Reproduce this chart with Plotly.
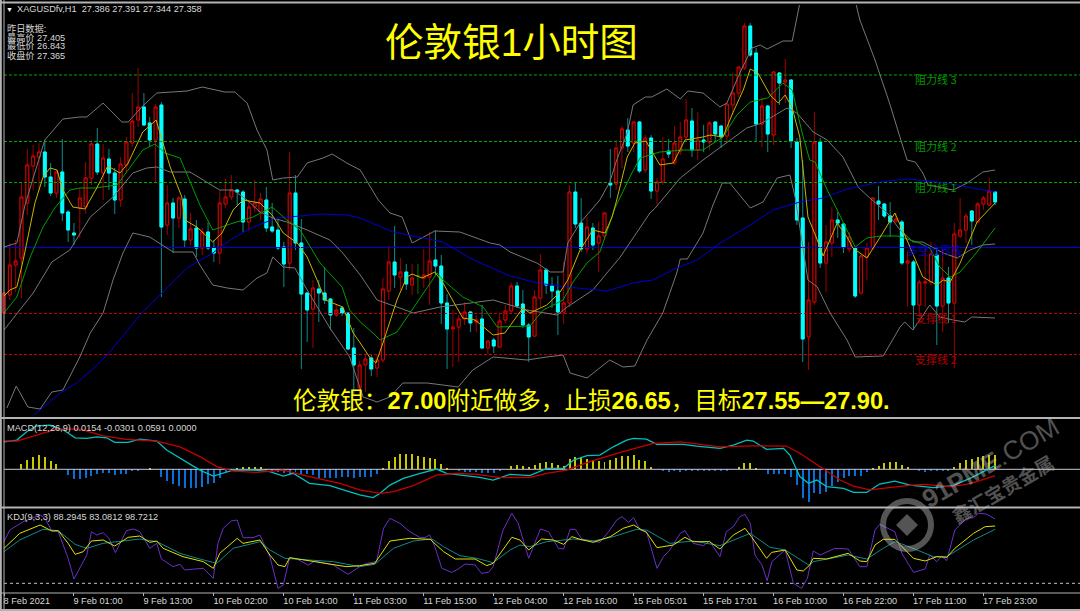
import plotly.graph_objects as go

W, H = 1080, 611

tick_labels = ["8 Feb 2021", "9 Feb 01:00", "9 Feb 13:00", "10 Feb 02:00", "10 Feb 14:00", "11 Feb 03:00",
               "11 Feb 15:00", "12 Feb 04:00", "12 Feb 16:00", "15 Feb 05:01", "15 Feb 17:01", "16 Feb 10:00",
               "16 Feb 22:00", "17 Feb 11:00", "17 Feb 23:00"]
tick_bars = [0, 12, 24, 36, 48, 60, 72, 84, 96, 108, 120, 132, 144, 156, 168]

opens = [26.935,27.025,27.175,27.21,27.485,27.67,27.715,27.74,27.615,27.535,
27.64,27.44,27.335,27.46,27.465,27.61,27.78,27.635,27.705,27.635,
27.5,27.675,27.785,27.9,27.965,27.885,27.8,27.975,27.375,27.485,
27.41,27.505,27.3,27.36,27.26,27.34,27.26,27.235,27.48,27.515,
27.55,27.54,27.39,27.465,27.44,27.5,27.365,27.35,27.265,27.185,
27.535,27.285,27.035,26.955,27.055,27.035,27.005,26.925,26.96,26.935,
26.76,26.56,26.675,26.71,26.66,26.7,27.045,27.19,27.115,27.14,
27.075,27.12,27.11,27.115,27.2,27.17,26.985,26.855,26.865,26.905,
26.94,26.89,26.905,26.76,26.8,26.765,26.9,26.945,27.07,26.98,
26.875,26.82,27.01,27.15,27.07,27.045,26.94,26.985,27.54,27.385,
27.255,27.36,27.285,27.32,27.585,27.58,27.76,27.85,27.785,27.89,
27.65,27.81,27.545,27.59,27.745,27.685,27.745,27.815,27.895,27.75,
27.8,27.79,27.89,27.87,27.82,27.975,28.035,28.16,28.37,28.235,
27.88,27.97,27.825,28.135,28.09,28.1,27.79,27.41,26.815,26.99,
27.79,27.185,27.285,27.4,27.38,27.255,27.26,27.035,27.215,27.26,
27.495,27.48,27.42,27.395,27.39,27.185,27.19,26.975,27.085,27.09,
27.225,26.97,27.11,26.985,27.32,27.35,27.445,27.39,27.48,27.475,27.54]
highs = [27.04,27.285,27.3,27.59,27.755,27.775,27.785,27.8,27.685,27.65,
27.805,27.45,27.385,27.56,27.69,27.8,27.86,27.78,27.755,27.66,
27.715,27.815,28.035,28.16,28.035,27.915,27.98,27.99,27.575,27.51,
27.52,27.525,27.435,27.4,27.36,27.39,27.3,27.55,27.605,27.625,
27.555,27.55,27.5,27.6,27.535,27.565,27.485,27.4,27.29,27.74,
27.625,27.405,27.04,27.1,27.1,27.165,27.01,26.98,26.97,26.935,
26.86,26.695,26.73,26.725,26.725,27.11,27.27,27.37,27.21,27.18,
27.18,27.18,27.255,27.34,27.35,27.225,27.03,26.95,26.925,26.99,
26.945,26.925,26.975,26.8,26.81,26.935,26.975,27.085,27.09,27.05,
26.885,27.05,27.23,27.16,27.115,27.12,27.19,27.575,27.59,27.51,
27.415,27.385,27.39,27.44,27.755,27.8,27.87,27.91,27.895,27.895,
27.825,27.825,27.61,27.815,27.805,27.87,27.89,28.005,27.96,27.94,
27.875,27.895,27.895,27.875,27.985,28.135,28.165,28.385,28.385,28.26,
28.015,27.975,28.145,28.14,28.205,28.105,27.81,27.7,27.29,27.94,
27.81,27.375,27.465,27.44,27.385,27.34,27.265,27.225,27.285,27.515,
27.57,27.485,27.49,27.435,27.4,27.245,27.2,27.1,27.275,27.29,
27.265,27.26,27.165,27.385,27.51,27.435,27.45,27.49,27.52,27.61,27.545]
lows = [26.935,27.0,27.04,27.01,27.425,27.55,27.55,27.565,27.52,27.51,
27.395,27.29,27.275,27.31,27.43,27.575,27.625,27.5,27.55,27.43,
27.465,27.635,27.765,27.865,27.87,27.765,27.585,27.015,27.325,27.235,
27.36,27.26,27.275,27.215,27.225,27.25,27.19,27.18,27.46,27.5,
27.475,27.34,27.35,27.44,27.4,27.34,27.335,27.25,27.065,27.15,
27.25,26.655,26.79,26.76,26.89,26.98,26.85,26.915,26.92,26.75,
26.525,26.525,26.54,26.62,26.615,26.685,27.0,27.06,27.05,27.05,
27.025,27.03,27.06,26.975,27.125,26.88,26.655,26.665,26.69,26.875,
26.84,26.84,26.755,26.73,26.735,26.765,26.885,26.935,26.96,26.86,
26.69,26.815,26.965,27.03,26.96,26.825,26.88,26.965,27.36,27.24,
27.235,27.25,27.14,27.3,27.51,27.55,27.66,27.74,27.74,27.635,
27.635,27.505,27.48,27.575,27.71,27.675,27.725,27.8,27.715,27.7,
27.74,27.75,27.79,27.76,27.785,27.925,28.015,28.15,28.215,27.79,
27.765,27.74,27.775,27.975,27.985,27.76,27.375,26.69,26.65,26.975,
27.16,27.04,27.215,27.31,27.235,27.24,27.01,27.025,27.1,27.25,
27.4,27.41,27.315,27.385,27.175,26.965,26.85,26.915,26.965,27.075,
26.775,26.84,26.885,26.66,27.31,27.285,27.275,27.385,27.45,27.47,27.475]
closes = [27.035,27.175,27.195,27.515,27.675,27.72,27.74,27.615,27.535,27.64,
27.435,27.35,27.325,27.51,27.61,27.78,27.64,27.71,27.635,27.5,
27.68,27.79,27.895,27.965,27.875,27.8,27.965,27.365,27.485,27.41,
27.51,27.3,27.355,27.26,27.34,27.26,27.235,27.485,27.515,27.55,
27.54,27.39,27.465,27.485,27.505,27.36,27.345,27.26,27.18,27.535,
27.285,27.03,26.95,27.06,27.035,27.0,26.925,26.95,26.935,26.755,
26.675,26.675,26.705,26.655,26.7,27.055,27.19,27.125,27.14,27.08,
27.11,27.12,27.125,27.195,27.17,26.985,26.855,26.865,26.905,26.94,
26.885,26.9,26.76,26.795,26.77,26.895,26.945,27.07,26.97,26.875,
26.815,27.015,27.15,27.075,27.045,26.94,26.985,27.54,27.38,27.255,
27.365,27.275,27.32,27.435,27.575,27.76,27.855,27.77,27.89,27.645,
27.81,27.545,27.59,27.705,27.73,27.785,27.815,27.9,27.75,27.8,
27.79,27.885,27.83,27.815,27.98,28.035,28.165,28.37,28.225,27.88,
27.97,27.83,28.14,28.085,28.1,27.795,27.4,26.805,27.0,27.79,
27.185,27.29,27.4,27.385,27.265,27.315,27.02,27.22,27.26,27.51,
27.48,27.42,27.39,27.405,27.185,27.195,26.975,27.09,27.09,27.23,
26.97,27.11,26.985,27.33,27.35,27.42,27.395,27.48,27.51,27.545,27.49]
doji_bars = [71]

upper_bars = [0,2.2,3.6,7,10.1,13,14.2,17,20.2,21.3,23.8,26.2,31.4,34,37.9,39.6,41.7,43.4,45.1,46.1,47.9,50.3,52,54.7,56.3,58.8,61.1,64.2,66.2,68.3,70,73.9,78.2,83.4,85.1,86.8,91.4,93.7,95.9,96.7,98.8,102.2,103.9,105.1,106.9,107.9,110,111.1,113.7,116,117.3,119.9,122.8,124,126.2,128.3,129.7,130.9,133.6,135.2,136.5,138.6,142.5,145.1,146.1,146.8,149.4,152,153.3,154.9,156.3,157.6,158.5,162.8,165.2,167.9,170]
upper_vals = [27.265,27.285,27.475,27.8,27.905,27.915,27.915,27.985,27.89,27.89,27.97,28.035,28.045,28.065,28.04,28.04,27.985,27.85,27.75,27.6,27.61,27.615,27.685,27.71,27.73,27.685,27.65,27.5,27.435,27.415,27.285,27.345,27.34,27.285,27.275,27.24,27.185,27.14,27.14,27.285,27.385,27.5,27.59,27.7,27.835,27.975,28.015,28.015,28.055,28.005,28.045,28.035,27.965,27.985,28.135,28.26,28.275,28.255,28.295,28.295,28.485,28.65,28.725,28.6,28.485,28.4,28.2,27.975,27.85,27.7,27.69,27.635,27.575,27.55,27.585,27.64,27.65]
middle_bars = [0,5,8.2,11.3,14.8,18.7,22.1,24.5,26.2,28.5,31.9,34.8,37,39.3,41.7,43.9,46.1,48.5,52,55.9,58.1,61.1,64,67.4,70.2,74.8,83.9,89.7,94.9,96.6,101,105.7,110.8,111.7,116,119.9,124,127.4,130,134.3,136,138.8,141.2,143.9,146.5,148.5,151.5,153.7,155.9,157.6,161.1,163.5,165.7,167.9,170]
middle_vals = [26.85,27.035,27.19,27.25,27.415,27.515,27.635,27.66,27.665,27.64,27.64,27.59,27.55,27.55,27.5,27.44,27.41,27.39,27.35,27.3,27.235,27.125,27.0,26.965,26.935,26.965,27.0,26.95,26.925,26.965,27.05,27.215,27.435,27.46,27.61,27.7,27.79,27.86,27.885,27.96,27.935,27.84,27.8,27.715,27.565,27.51,27.435,27.35,27.29,27.29,27.235,27.21,27.25,27.275,27.28]
lower_bars = [0.5,2.1,4.1,6.2,8.2,10.1,13,14.8,17,18.7,20.4,22.1,25,27.1,29,32.4,33.6,35.8,38.3,41,43.4,45.1,46.1,47.9,49.9,52,55.9,59.3,61.1,61.6,64,66.2,68.4,72.6,77.9,80.4,83.9,89.7,93.1,95.9,97.1,100,103.9,106.2,108.2,110.3,113,115.4,116,117.2,119.9,121.6,123.2,124.5,128,130.2,132.6,134.8,135.7,137.9,139.5,141.7,144.6,146,150.8,153.7,154.5,155.9,158.8,160.5,162.8,164.8,166,170]
lower_vals = [26.46,26.57,26.465,26.455,26.54,26.55,26.715,26.835,26.935,27.1,27.235,27.335,27.315,27.275,27.24,27.24,27.175,27.075,27.06,27.05,27.11,27.135,27.215,27.165,27.16,27.05,26.86,26.715,26.565,26.515,26.49,26.515,26.585,26.585,26.565,26.65,26.715,26.7,26.715,26.725,26.635,26.61,26.7,26.665,26.67,26.8,26.935,27.135,27.205,27.205,27.335,27.475,27.585,27.585,27.46,27.49,27.61,27.625,27.515,27.1,27.065,26.935,26.8,26.715,26.72,26.865,26.89,26.85,26.975,26.915,26.9,26.89,26.915,26.91]
blue_bars = [4.5,6.2,9.6,12.5,16,17.7,23.3,26.8,31.4,35.8,38.8,42.7,46.8,50.8,54.2,58.8,61.1,66.7,70.8,75.3,79.9,86.3,91.4,96.6,103.4,107.9,111.3,115.4,118.9,122.8,128,131.9,136.5,140.5,144.6,150.3,154.9,161.7,165.2,170]
blue_vals = [26.41,26.45,26.535,26.585,26.675,26.725,26.925,27.025,27.16,27.235,27.3,27.365,27.41,27.42,27.43,27.425,27.41,27.34,27.315,27.29,27.21,27.125,27.085,27.065,27.045,27.085,27.1,27.16,27.2,27.285,27.375,27.45,27.49,27.51,27.555,27.59,27.605,27.585,27.565,27.54]
yellow_bars = [0,1,2.2,3.3,5.3,6.7,7.9,9.1,10.1,11.8,13.9,16,17.8,19.9,21.3,23.8,26.1,27.3,28.5,30.5,31,33.1,35.8,37.4,39.3,41,43.9,46,47.9,50.3,52,53.7,55.1,58.1,59.9,61.1,62.8,63.8,65,67.4,69.1,70,71.7,73.9,75.3,77.7,78.7,80.8,83.9,85.9,89,90.2,93.1,95.4,96.7,98.8,101,103.1,104.3,105.1,106.9,108.2,110.1,112.5,114.8,116.8,119.9,121.1,123.3,125,126.8,128,129.3,131.4,132.8,134,135.2,136.5,137.9,139.5,140.5,142.9,144.6,145.6,148,150.3,152.8,155.1,157.6,160,161.1,162.3,164,166.9,170]
yellow_vals = [27.02,27.05,27.065,27.2,27.485,27.615,27.66,27.65,27.55,27.465,27.455,27.565,27.67,27.635,27.685,27.84,27.9,27.785,27.665,27.515,27.4,27.365,27.29,27.335,27.45,27.5,27.485,27.425,27.335,27.285,27.215,27.1,27.0,26.965,26.835,26.785,26.71,26.685,26.785,27.0,27.115,27.13,27.11,27.14,27.085,26.96,26.91,26.9,26.825,26.835,26.96,26.935,26.975,27.04,27.1,27.25,27.35,27.335,27.415,27.5,27.715,27.785,27.795,27.675,27.685,27.8,27.815,27.825,27.815,27.935,28.05,28.155,28.135,28.025,27.985,28.025,27.96,27.815,27.415,27.3,27.22,27.385,27.315,27.26,27.21,27.315,27.435,27.285,27.115,27.075,27.1,27.09,27.185,27.39,27.485]
green_bars = [0,2.2,4.5,6.7,8.7,11.3,13,15.6,19.4,21.3,23.8,25.9,27.6,30.2,33.6,35.8,38.8,42.7,46,48.5,50.8,54.2,58,59.3,61.1,63.3,64.5,67.4,70.8,74.3,75.3,78.7,82.2,84.6,90.2,92.5,95.9,97.6,100,102.2,104.8,107.7,109.1,112.5,116.5,119.9,123.3,125.7,128,131,133.6,135.2,136.9,138.2,139.1,141.2,142.5,146,148,150.3,153.2,156.6,158.8,160.5,162.3,164,166.9,168.8,170]
green_vals = [26.935,27.015,27.215,27.365,27.46,27.55,27.56,27.56,27.575,27.65,27.75,27.78,27.735,27.71,27.475,27.35,27.38,27.415,27.465,27.4,27.35,27.185,27.065,26.95,26.89,26.835,26.8,26.84,26.985,27.135,27.1,27.015,26.965,26.865,26.87,26.95,27.0,27.09,27.185,27.24,27.46,27.635,27.71,27.74,27.75,27.75,27.815,27.925,27.99,28.01,28.085,28.05,27.835,27.7,27.69,27.55,27.475,27.265,27.31,27.32,27.32,27.29,27.26,27.165,27.115,27.14,27.24,27.31,27.36]

resistance_levels = [28.125, 27.7925, 27.5875]
resistance_names = ["阻力线 3", "阻力线 2", "阻力线 1"]
pivot_level = [27.2625]
pivot_name = ["多空分界线"]
support_levels = [26.9325, 26.7275]
support_names = ["支撑线 1", "支撑线 2"]

macd_hist = [0,0,0,.021,.037,.051,.057,.048,.033,.021,
0,-.023,-.039,-.039,-.036,-.025,-.019,-.016,-.016,-.023,
-.017,-.017,-.007,-.003,0,.004,0,-.029,-.045,-.059,
-.067,-.073,-.073,-.073,-.069,-.060,-.053,-.033,-.012,-.003,
.007,.008,.008,.009,.011,.001,-.007,-.009,-.016,-.020,
-.009,-.023,-.020,-.023,-.033,-.033,-.036,-.033,-.029,-.029,
-.033,-.032,-.032,-.029,-.020,.004,.033,.048,.060,.060,
.060,.053,.048,.047,.040,.021,.004,0,-.007,-.009,
-.012,-.012,-.013,-.016,-.016,-.003,0,.015,.017,.015,
.008,.017,.027,.028,.027,.017,.015,.040,.048,.044,
.041,.037,.033,.031,.037,.047,.053,.055,.057,.037,
.033,.011,0,-.003,-.009,-.007,-.009,-.003,-.003,-.007,
-.007,-.007,-.007,-.007,-.007,0,.011,.027,.027,.007,
0,-.020,-.020,-.020,-.020,-.032,-.063,-.113,-.132,-.096,
-.100,-.092,-.065,-.049,-.036,-.025,-.027,-.025,-.009,.004,
.015,.027,.031,.031,.017,.009,0,-.007,-.009,-.007,
-.007,-.007,-.003,.011,.024,.037,.041,.049,.055,.057,.057]
macd_bars = [0,2.2,3.9,5.6,7.9,10.2,12.2,14.2,15.9,17.6,19,21.3,23.3,26.2,27.9,30.7,33.6,35.9,38.2,39.3,42.7,45.6,47.9,49.6,52.4,55.9,58.2,61,63.3,64.5,66.2,68.5,71.4,74.2,75.9,78.8,81.6,83.9,86.8,90.2,93.1,96,97.7,100,102.2,104.5,106.8,108,110.2,112,116.5,118.8,122.8,125.1,127.4,128.5,130.8,133.7,134.8,136.5,138,139.4,141.1,144,145.7,148,150.2,152.8,155.4,159.4,162.8,165.7,170]
macd_vals = [.110,.117,.150,.174,.177,.157,.126,.124,.130,.126,.108,.108,.121,.113,.077,.037,-.003,-.027,-.012,-.003,-.003,-.009,-.027,-.016,-.056,-.065,-.082,-.102,-.113,-.096,-.063,-.036,-.016,.001,-.016,-.023,-.032,-.043,-.020,-.025,.004,.004,.037,.055,.057,.090,.117,.124,.121,.100,.100,.093,.084,.097,.117,.113,.080,.084,.057,-.029,-.056,-.043,-.069,-.076,-.092,-.092,-.059,-.047,-.063,-.073,-.065,-.036,.015]
signal_bars = [0,2.2,5.6,9,13,17,21,26.2,30.2,33.6,36.5,39.3,43.3,47.9,52.4,57.6,61,64.5,66.8,70.2,74.2,77.6,81.1,85.1,90.2,93.1,96.5,100.5,105.7,111.4,116,122.8,128.5,134.2,136.5,140.5,143.4,145.7,148.5,154.8,157.7,162.3,165.1,167.4,170]
signal_vals = [.114,.113,.137,.161,.161,.134,.120,.113,.090,.051,.011,-.007,-.012,-.003,-.029,-.056,-.082,-.096,-.089,-.065,-.023,-.016,-.020,-.033,-.032,-.016,-.003,.031,.068,.104,.110,.090,.094,.093,.064,.004,-.043,-.067,-.082,-.065,-.060,-.069,-.060,-.045,-.025]

j_bars = [0,1,3.3,6.2,7,8.2,9.3,11,12,14.2,15,15.9,17,18,19.1,20.2,21,22.2,23.3,25,26.2,27,29,30.2,31,32.7,34.2,35.9,36.7,37.6,39,40,41,42.7,43.9,45.6,47,47.9,49,50.2,52.2,53.3,56.5,59,61,62.2,63.9,65.1,66.2,67.9,69.6,71.4,72.2,73,73.9,75.1,76.8,77.9,79.1,80.8,81.9,83.1,83.9,85.6,87.1,88.2,90,92,93.4,95.1,96,97.1,98,99.1,100.8,102.2,103.7,105.1,106,107.1,108,109.1,110.2,112,113.1,114.2,116,116.8,118.2,120,121,122.8,123.9,125.1,126.2,127.1,128,128.8,130,130.9,131.7,134,135.4,136.8,137.8,138.8,140,142.5,144.8,146.8,148,149.4,150.2,152.8,154,156,158,158.8,160,160.8,161.7,163.1,165.1,166.3,167.1,168.5,170]
j_vals = [65,82.5,95,105,100,81.5,80,40,9,45,80,75,78.5,70,48.5,67.5,81.5,84,80,55,62.5,39,27.5,31,22.5,24,25,10,62.5,85,96,97.5,71,71,75,42.5,-5,0,41,39,30,36,30,16,27.5,32.5,35,85,100,92.5,80,71,71,75,57.5,25,19,24,31.5,30,17.5,19,27.5,82.5,107.5,92.5,40,84,80,55,54,83.5,83.5,69,66,64,80,97.5,102.5,94,101,82.5,80,25,42.5,52.5,77.5,81.5,62.5,59,66,42.5,80,87.5,102.5,106,92.5,45,30,6.5,35,52.5,2.5,-5,10,51,45,55,54,27.5,27.5,82.5,91,80,47.5,19,24,45,35,43.5,36.5,82.5,100,101,107.5,106.5,99]
k_bars = [0,2.7,6.2,8.2,9.3,11,12.2,13.6,15,17,19,21.3,23.3,25,26.2,27.3,30.7,34.2,35.9,37,40,41,43.9,45.6,47,48.2,49,53.3,58.7,61,63.6,66.2,69.6,73.1,75.4,77.4,80.8,82.8,83.9,87.1,88.5,90,92.2,94.2,96,97.4,98.8,101.1,104,106.2,108,109.4,110.2,112,114.8,116.8,118.2,121,122.8,125.1,127.1,128.2,130.8,131.7,134,136,137.1,138.2,138.8,141.1,144.8,146.8,148,149.4,150.8,152.8,154,156,158,160,161.7,163.1,166.3,168.3,170]
k_vals = [55,77.5,90,81,81.5,62.5,46,50,66,67.5,58.5,71.5,73.5,64,66,55,42.5,35,25,47.5,70,62.5,67.5,45,30,27.5,41,35,27.5,29,32.5,66,70,68.5,50,39,39,29,32.5,71.5,67.5,52.5,69,67.5,61,72.5,68.5,64,72.5,85,90,82.5,79,56,60,71.5,65,65,54,75,85,72.5,40,49,52.5,22.5,21,30,40,39,47.5,36,35,60,68.5,68.5,57.5,40,36,42.5,41.5,55,77.5,87.5,88.5]
d_bars = [0,2.7,6.7,9.3,12.2,14.2,17,21,23.3,26.2,30.2,33.6,36.5,39.3,43.9,45.6,48.2,56.5,61,63.6,66.8,70.2,73.4,75.4,78.2,81.1,83.9,86.8,88.5,90.2,93.1,97.7,101.1,104.5,108.5,110.2,114.2,118.2,122.8,128,131.4,134,138.2,138.8,144.8,148,150.8,152.8,154.8,159.4,161.7,166.3,170]
d_vals = [50,67.5,83.5,81.5,61,55,62.5,66,69,65,47.5,39,32.5,55,65,52.5,40,35,27.5,31,55,66,69,57.5,44,40,33.5,52.5,60,57.5,65,69,66,72.5,83.5,82.5,62.5,66,59,77.5,56.5,52.5,29,35,45,39,55,65,59,42.5,42.5,67.5,83.5]
kdj_floor = [2.5]

bars = list(range(len(opens)))
normal = [b for b in bars if b not in doji_bars]


def pick(seq, idx):
    return [seq[i] for i in idx]


fig = go.Figure()


def add_line(xs, ys, color, yaxis="y", width=1, dash=None):
    fig.add_trace(go.Scatter(x=xs, y=ys, mode="lines", yaxis=yaxis, hoverinfo="skip",
                             line=dict(color=color, width=width, dash=dash)))


for lvl in resistance_levels:
    add_line([0, 186], [lvl, lvl], "#00a800", dash="3px,2px")
for lvl in support_levels:
    add_line([0, 186], [lvl, lvl], "#c80000", dash="3px,2px")
for lvl in pivot_level:
    add_line([0, 186], [lvl, lvl], "#0000d8")

o, h, l, c = (pick(s, normal) for s in (opens, highs, lows, closes))
# wicks underneath, candle bodies over them in their brighter colour
fig.add_trace(go.Candlestick(x=normal, open=o, high=h, low=l, close=c, hoverinfo="skip",
                             increasing=dict(line=dict(color="#a00000", width=1), fillcolor="#000000"),
                             decreasing=dict(line=dict(color="#0f8a8a", width=1), fillcolor="#00ffff")))
fig.add_trace(go.Candlestick(x=normal, open=o, close=c, hoverinfo="skip",
                             high=[max(a, b) for a, b in zip(o, c)], low=[min(a, b) for a, b in zip(o, c)],
                             increasing=dict(line=dict(color="#d80000", width=1), fillcolor="#000000"),
                             decreasing=dict(line=dict(color="#00ffff", width=1), fillcolor="#00ffff")))
fig.add_trace(go.Candlestick(x=doji_bars, open=pick(opens, doji_bars), high=pick(highs, doji_bars),
                             low=pick(lows, doji_bars), close=pick(closes, doji_bars), hoverinfo="skip",
                             increasing=dict(line=dict(color="#007a00", width=1)),
                             decreasing=dict(line=dict(color="#007a00", width=1))))

add_line(upper_bars, upper_vals, "#777777")
add_line(middle_bars, middle_vals, "#777777")
add_line(lower_bars, lower_vals, "#777777")
add_line(blue_bars, blue_vals, "#0000d8")
add_line(green_bars, green_vals, "#00a000")
add_line(yellow_bars, yellow_vals, "#c8b400")

hist_colors = ["#c8c800" if v >= 0 else "#0a6ed8" for v in macd_hist]
fig.add_trace(go.Bar(x=bars, y=macd_hist, width=0.17, yaxis="y2", hoverinfo="skip",
                     marker=dict(color=hist_colors, line=dict(width=0))))
add_line([0, 186], [0, 0], "#c8c8d8", yaxis="y2")
add_line(macd_bars, macd_vals, "#00c0c0", yaxis="y2", width=1.3)
add_line(signal_bars, signal_vals, "#c80000", yaxis="y2", width=1.3)

add_line([0, 186], kdj_floor * 2, "#c0c0c0", yaxis="y3", dash="3px,3px")
add_line(j_bars, j_vals, "#6a30c8", yaxis="y3")
add_line(d_bars, d_vals, "#108a8a", yaxis="y3")
add_line(k_bars, k_vals, "#e0e000", yaxis="y3", width=1)


def py(px):
    return 1 - px / H


def px(x):
    return x / W


def note(text, x, y, size, color, family="Noto Sans CJK SC", anchor="left", angle=0):
    fig.add_annotation(text=text, xref="paper", yref="paper", x=px(x), y=py(y), showarrow=False,
                       xanchor=anchor, yanchor="middle", textangle=angle,
                       font=dict(size=size, color=color, family=family))


for name, lvl in zip(resistance_names, resistance_levels):
    fig.add_annotation(text=name, xref="paper", y=lvl, yref="y", x=px(913), xanchor="left", yanchor="middle",
                       yshift=-4.5, showarrow=False, font=dict(size=11, color="#009800", family="Noto Sans CJK SC"))
for name, lvl in zip(pivot_name, pivot_level):
    fig.add_annotation(text=name, xref="paper", y=lvl, yref="y", x=px(905), xanchor="left", yanchor="middle",
                       yshift=-3, showarrow=False, font=dict(size=11, color="#0000c0", family="Noto Sans CJK SC"))
for name, lvl in zip(support_names, support_levels):
    fig.add_annotation(text=name, xref="paper", y=lvl, yref="y", x=px(913), xanchor="left", yanchor="middle",
                       yshift=-5, showarrow=False, font=dict(size=11, color="#b00000", family="Noto Sans CJK SC"))

SMALL = "Liberation Sans, Noto Sans CJK SC"
note("▼", 4, 9, 7, "#ffffff", SMALL)
note("XAGUSDfv,H1  27.386 27.391 27.344 27.358", 15, 9.5, 9.2, "#d8d8d8", SMALL)
note("昨日数据:", 5, 28, 9.2, "#d8d8d8", SMALL)
note("最高价 27.405", 5, 37, 9.2, "#d8d8d8", SMALL)
note("最低价 26.843", 5, 46, 9.2, "#d8d8d8", SMALL)
note("收盘价 27.365", 5, 55, 9.2, "#d8d8d8", SMALL)
note("MACD(12,26,9) 0.0154 -0.0301 0.0591 0.0000", 5, 428, 9.2, "#d8d8d8", SMALL)
note("KDJ(9,3,3) 88.2945 83.0812 98.7212", 5, 517, 9.2, "#d8d8d8", SMALL)

note("伦敦银1小时图", 511, 42, 38.6, "#ffff00", "Liberation Sans, Noto Sans CJK SC", anchor="center")
note("伦敦银\uff1a<b>27.00</b>附近做多\uff0c止损<b>26.65</b>\uff0c目标<b>27.55—27.90.</b>", 291, 401, 23.6, "#ffff00",
     "Liberation Sans, Noto Sans CJK SC")

WM = "rgba(200,200,200,0.42)"
note("<b>91PME</b>.COM", 990, 463, 26, WM, "Liberation Sans", anchor="center", angle=-30)
note("<b>鑫汇宝贵金属</b>", 1002, 488, 19, WM, "Noto Sans CJK SC", anchor="center", angle=-30)

shapes = [
    dict(type="circle", xref="paper", yref="paper", x0=px(883), x1=px(931), y0=py(549), y1=py(501),
         line=dict(color=WM, width=6)),
    dict(type="path", xref="paper", yref="paper",
         path=f"M {px(907)} {py(514)} L {px(918)} {py(525)} L {px(907)} {py(536)} L {px(896)} {py(525)} Z",
         fillcolor=WM, line=dict(width=0)),
]
frame_color = "#b4b4b4"
for y_line, w_line in [(2.5, 2), (418, 2), (507.5, 2), (593, 1), (610, 2)]:
    shapes.append(dict(type="line", xref="paper", yref="paper", x0=0, x1=1, y0=py(y_line), y1=py(y_line),
                       line=dict(color=frame_color, width=w_line)))
for x_line, w_line in [(0.8, 2), (4, 1)]:
    shapes.append(dict(type="line", xref="paper", yref="paper", x0=px(x_line), x1=px(x_line), y0=0, y1=1,
                       line=dict(color=frame_color, width=w_line)))

fig.update_layout(
    width=W, height=H, margin=dict(l=0, r=0, t=0, b=0),
    paper_bgcolor="#000000", plot_bgcolor="#000000", showlegend=False, shapes=shapes,
    bargap=0, barmode="overlay",
    xaxis=dict(domain=[0, 1], range=[-0.686, 184.56], anchor="y3", rangeslider=dict(visible=False),
               showgrid=False, zeroline=False, showline=False,
               tickmode="array", tickvals=tick_bars, ticktext=tick_labels, ticks="outside", ticklen=3,
               tickcolor="#b4b4b4", tickwidth=1, ticklabelposition="outside right", ticklabelshift=-1,
               tickfont=dict(size=9.2, color="#d8d8d8", family="Liberation Sans")),
    yaxis=dict(domain=[py(415), py(5)], range=[26.425, 28.475], visible=False, fixedrange=True),
    yaxis2=dict(domain=[py(505), py(419)], range=[-0.1428, 0.2012], visible=False, fixedrange=True),
    yaxis3=dict(domain=[py(592), py(509)], range=[-10.5, 114], visible=False, fixedrange=True),
)

fig.write_html("out.html", config=dict(displayModeBar=False),
               post_script="document.body.style.margin='0';document.body.style.overflow='hidden';")
